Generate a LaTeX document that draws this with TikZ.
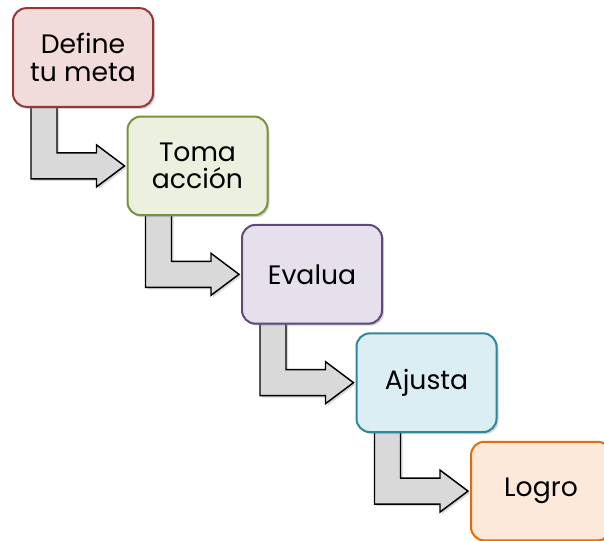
\documentclass[tikz,border=0pt]{standalone}
\usepackage{fontspec}
\setmainfont{Poppins}
\usepackage{tikz}
\usetikzlibrary{calc,shadows,backgrounds}

\definecolor{rojoline}{HTML}{953735}
\definecolor{rojofill}{HTML}{F2DCDB}
\definecolor{verdeline}{HTML}{77933C}
\definecolor{verdefill}{HTML}{EBF1DE}
\definecolor{moradoline}{HTML}{5F497A}
\definecolor{moradofill}{HTML}{E5E0EC}
\definecolor{azulline}{HTML}{31859C}
\definecolor{azulfill}{HTML}{DBEEF4}
\definecolor{naranjaline}{HTML}{E46C0A}
\definecolor{naranjafill}{HTML}{FDE9D9}
\definecolor{flechafill}{HTML}{D9D9D9}

\tikzset{
  stepbox/.style={draw, line width=1.5pt, rounded corners=10pt,
    minimum width=105pt, minimum height=74pt, align=center,
    font=\fontsize{20}{20.5}\selectfont,
    drop shadow={shadow xshift=1.5pt, shadow yshift=-1.5pt, opacity=0.35}},
  bentarrow/.style={fill=flechafill, draw=black, line width=1.1pt,
    drop shadow={shadow xshift=1.5pt, shadow yshift=-1.5pt, opacity=0.3}}
}

% bent block arrow from the bottom of #1 to the left side of #2
\newcommand\steparrow[2]{%
  \path (#1.south west) coordinate (s) (#2.west) coordinate (t);
  \draw[bentarrow] ($(s)+(19,-2)$) |- ($(t)+(-30,13)$) -- ($(t)+(-30,21)$)
    -- ($(t)+(-2,0)$) -- ($(t)+(-30,-21)$) -- ($(t)+(-30,-13)$)
    -| ($(s)+(45,-2)$) -- cycle;
}

\begin{document}
\begin{tikzpicture}[x=0.75pt, y=-0.75pt]
\useasboundingbox (0,0) rectangle (604,541);
% the five steps, down the stairs
\foreach \n/\t/\c [count=\i from 0] in {meta/{Define\\tu meta}/rojo,
    accion/{Toma\\acción}/verde, evalua/Evalua/morado,
    ajusta/Ajusta/azul, logro/Logro/naranja}{
  \node[stepbox, draw=\c line, fill=\c fill] (\n)
    at (83+114.5*\i, 57.5+108.4*\i) {\t};
}
% arrows behind the boxes
\begin{scope}[on background layer]
  \steparrow{meta}{accion}
  \steparrow{accion}{evalua}
  \steparrow{evalua}{ajusta}
  \steparrow{ajusta}{logro}
\end{scope}
\end{tikzpicture}
\end{document}
